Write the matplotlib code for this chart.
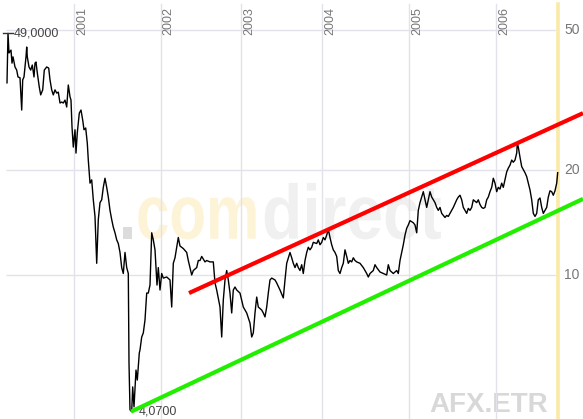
import matplotlib.pyplot as plt
import matplotlib.transforms as mtransforms
from matplotlib.textpath import TextPath
from matplotlib.patches import PathPatch
from matplotlib.font_manager import FontProperties

# chart position (bar index along the time axis) and closing price
t = [7, 8, 9, 11, 12, 13, 15, 16.7, 18, 20, 21.7, 22.7, 24, 26, 26.7, 27.3, 29, 30.7, 32.3, 34,
     35, 36, 37.3, 39.3, 40.7, 42.7, 44.3, 46.7, 48.7, 50, 51.7, 53.3, 55, 56.7, 58.3, 60, 61.7,
     63.3, 65, 66.7, 68.3, 70, 71, 72, 73.3, 75, 76, 77.3, 79.3, 81, 82.7, 84, 85.7, 87.3, 88.3,
     90, 91.7, 93.3, 95, 96.7, 98.3, 100, 101.7, 103.3, 105, 106.7, 108.3, 110, 111.7, 113.3,
     115, 116.7, 118.3, 120, 121.7, 123.3, 125, 126.7, 128.3, 129, 130, 131.7, 132.7, 134, 136,
     137.3, 139.3, 140, 141.7, 143.3, 145, 146.7, 148.3, 150, 151.7, 153.3, 155, 157, 158.3,
     160, 161.7, 163.3, 166.7, 170, 171.7, 173.3, 175, 176.7, 178.3, 180, 183.3, 186.7, 188.3,
     190, 191.7, 193.3, 196.7, 198.3, 200, 201.7, 205, 206.7, 210, 213.3, 215, 216.7, 220,
     221.7, 223.3, 225, 226.7, 228.3, 230, 231.7, 233.3, 235, 236.7, 240, 243.3, 246.7, 250,
     251.7, 253.3, 255, 256.7, 258.3, 261.7, 263.3, 265, 266.7, 268.3, 270, 271.7, 275, 276.7,
     280, 283.3, 285, 286.7, 290, 291.7, 293.3, 295, 296.7, 298.3, 300, 301.7, 303.3, 305,
     306.7, 308.3, 310, 311.7, 313.3, 316.7, 318.3, 320, 321.7, 323.3, 325, 326.7, 328.3, 330,
     331.7, 333.3, 335, 336.7, 338.3, 340, 341.7, 343.3, 345, 346.7, 348.3, 350, 351.7, 353.3,
     355, 356.7, 360, 363.3, 366.7, 368.3, 370, 373.3, 375, 376.7, 380, 383.3, 386.7, 388.3,
     390, 393.3, 396.7, 398.3, 400, 401.7, 403.3, 405, 406.7, 408.3, 410, 411.7, 413.3, 415,
     416.7, 418.3, 420, 421.7, 423.3, 425, 426.7, 428.3, 430, 431.7, 433.3, 435, 436.7, 438.3,
     440, 441.7, 443.3, 445, 446.7, 448.3, 450, 451.7, 453.3, 456.7, 458.3, 460, 461.7, 463.3,
     465, 466.7, 468.3, 470, 471.7, 473.3, 476.7, 478.3, 480, 481.7, 483.3, 485, 486.7, 488.3,
     490, 491.7, 493.3, 495, 496.7, 498.3, 500, 501.7, 503.3, 505, 506.7, 508.3, 510, 511.7,
     513.3, 515, 516.7, 517.3, 518.3, 520, 521.7, 523.3, 525, 526.7, 528.3, 530, 531.7, 533.3,
     535, 536.7, 538.3, 540, 541.7, 543.3, 545, 546.7, 548.3, 550, 551.7, 553.3, 555, 556.7,
     557.7]
price = [35.4, 49.0, 43.1, 43.9, 40.3, 42.0, 39.3, 38.5, 36.8, 36.6, 29.6, 36.1, 36.8, 42.0, 44.8,
         42.0, 39.3, 38.5, 39.8, 36.8, 40.3, 40.6, 37.8, 34.4, 32.7, 33.8, 38.5, 39.3, 39.0, 36.1,
         33.8, 32.7, 33.8, 33.1, 33.3, 31.0, 31.2, 31.0, 31.6, 30.2, 34.9, 32.3, 31.6, 26.5, 23.2,
         26.0, 22.3, 25.5, 29.0, 29.6, 27.7, 26.0, 26.3, 23.8, 21.3, 18.3, 18.7, 16.4, 14.7, 10.8,
         14.4, 16.1, 16.4, 17.8, 18.9, 17.8, 16.7, 15.3, 14.4, 13.7, 13.2, 12.6, 12.3, 11.6, 10.5,
         10.1, 11.6, 10.5, 10.1, 5.61, 4.12, 4.07, 4.79, 4.20, 5.35, 5.01, 5.99, 6.11, 6.65, 6.83,
         7.44, 8.88, 8.88, 9.36, 13.2, 12.6, 11.8, 9.36, 10.5, 9.06, 10.1, 9.80, 9.87, 9.68, 8.10,
         10.8, 11.2, 12.0, 12.8, 12.1, 11.9, 11.6, 11.0, 10.5, 10.0, 10.3, 10.5, 11.0, 11.0, 11.3,
         10.9, 11.0, 10.9, 10.9, 9.49, 9.06, 8.10, 6.65, 8.48, 9.68, 10.3, 9.68, 8.88, 7.79, 9.06,
         9.24, 9.06, 8.88, 8.10, 7.79, 7.29, 6.65, 6.83, 7.79, 8.65, 8.10, 7.94, 7.79, 7.59, 8.10,
         8.88, 9.68, 9.80, 9.68, 9.49, 9.06, 8.60, 9.68, 10.8, 11.6, 11.2, 10.8, 10.5, 10.8, 10.5,
         10.3, 10.7, 10.1, 11.0, 11.6, 12.0, 11.8, 12.0, 12.4, 12.3, 12.6, 12.2, 12.4, 12.8, 12.6,
         13.0, 13.5, 12.8, 12.2, 11.8, 11.6, 11.3, 10.3, 10.1, 10.5, 10.8, 11.8, 11.3, 10.8, 11.0,
         10.9, 11.2, 11.0, 10.9, 10.8, 10.5, 10.1, 9.87, 10.1, 10.3, 10.7, 10.5, 10.2, 10.1, 10.0,
         10.7, 10.3, 10.1, 10.3, 10.1, 11.0, 11.6, 12.2, 13.0, 13.6, 13.9, 14.3, 14.2, 14.1, 13.9,
         13.2, 15.3, 16.1, 16.7, 17.3, 16.4, 15.6, 16.4, 17.3, 16.7, 16.4, 16.1, 15.6, 15.3, 15.6,
         15.0, 14.8, 14.6, 14.8, 14.7, 15.0, 15.3, 15.6, 16.4, 16.7, 16.9, 16.4, 15.6, 15.3, 15.0,
         15.5, 15.3, 15.6, 16.4, 16.1, 16.4, 15.9, 15.6, 15.5, 15.6, 16.4, 16.7, 17.3, 17.8, 18.9,
         18.3, 17.3, 17.8, 17.6, 18.3, 17.8, 18.7, 19.7, 20.2, 20.6, 21.3, 21.0, 21.3, 22.3, 23.8,
         23.2, 21.7, 20.4, 20.0, 19.6, 19.1, 18.3, 17.5, 16.4, 15.0, 14.7, 15.0, 16.4, 16.6, 15.6,
         15.0, 15.3, 15.6, 16.7, 17.4, 17.3, 16.9, 17.4, 18.3, 19.6]

# trend channel end points
red_t = [189, 583]
red_v = [8.88, 29.0]
green_t = [131, 583]
green_v = [4.07, 16.5]

year_labels = ['2001', '2002', '2003', '2004', '2005', '2006']
year_pos = [74, 160.5, 241, 322, 409, 496]
price_ticks = [10, 20, 50]
hi_val, hi_t = 49.0, 8
lo_val, lo_t = 4.07, 131.7

plt.rcParams['font.family'] = ['Liberation Sans', 'DejaVu Sans']

fig = plt.figure(figsize=(5.83, 4.19), dpi=100)
ax = fig.add_axes([0, 0, 1, 1])
ax.set_yscale('log')
ax.set_xlim(0, 583)
ax.set_ylim(3.878, 61.05)
ax.axis('off')

grid_c = '#e2e2ea'
top_frac = 1 - 4 / 419
for x in year_pos:
    ax.axvline(x, ymin=0, ymax=top_frac, color=grid_c, lw=1, zorder=1)
ax.hlines(price_ticks, 6, 556, color=grid_c, lw=1, zorder=1)
ax.axvline(558, ymin=0, ymax=top_frac, color='#fbe9a8', lw=2.6, zorder=1)


# watermark: glyph outlines squeezed horizontally (tall, narrow lettering)
wm_prop = FontProperties(family='Liberation Sans', weight='bold')


def watermark(s, x, y, sx, sy, color):
    path = TextPath((0, 0), s, size=1, prop=wm_prop)
    x0, y0 = ax.transData.transform((x, y))
    tr = mtransforms.Affine2D().scale(sx, sy).translate(x0, y0)
    ax.add_patch(PathPatch(path, transform=tr, facecolor=color, edgecolor='none', zorder=0))


wm_base = 12.7
watermark('.', 119, wm_base, 62, 77, '#dcdcdc')
watermark('com', 136, wm_base, 60, 77, '#fdf3d6')
watermark('direct', 262, wm_base, 66, 77, '#f0f0f0')
ax.text(429, 4.07, 'AFX.ETR', fontsize=20, color='#d8d8d8', ha='left', va='baseline',
        fontweight='bold', zorder=0)

# price line and trend channel
ax.plot(t, price, color='black', lw=1.0, zorder=3)
ax.plot(red_t, red_v, color='#ff0000', lw=3, solid_capstyle='butt', zorder=4)
ax.plot(green_t, green_v, color='#22ee00', lw=3, solid_capstyle='butt', zorder=4)

# labels
blend = mtransforms.blended_transform_factory(ax.transData, ax.transAxes)
for x, lab in zip(year_pos, year_labels):
    ax.text(x + 2, 1 - 35 / 419, lab, rotation=90, ha='left', va='bottom',
            fontsize=9, color='#777777', transform=blend)
for v in price_ticks:
    ax.text(564, v, str(v), ha='left', va='center', fontsize=10, color='#777777')

ax.plot([3, 13], [hi_val, hi_val], color='#333333', lw=1, zorder=3)
ax.text(14, hi_val, '49,0000', ha='left', va='center', fontsize=9, color='#444444')
ax.text(lo_t + 7, lo_val, '4,0700', ha='left', va='center', fontsize=9, color='#444444')

fig.savefig('out.png', dpi=100)
